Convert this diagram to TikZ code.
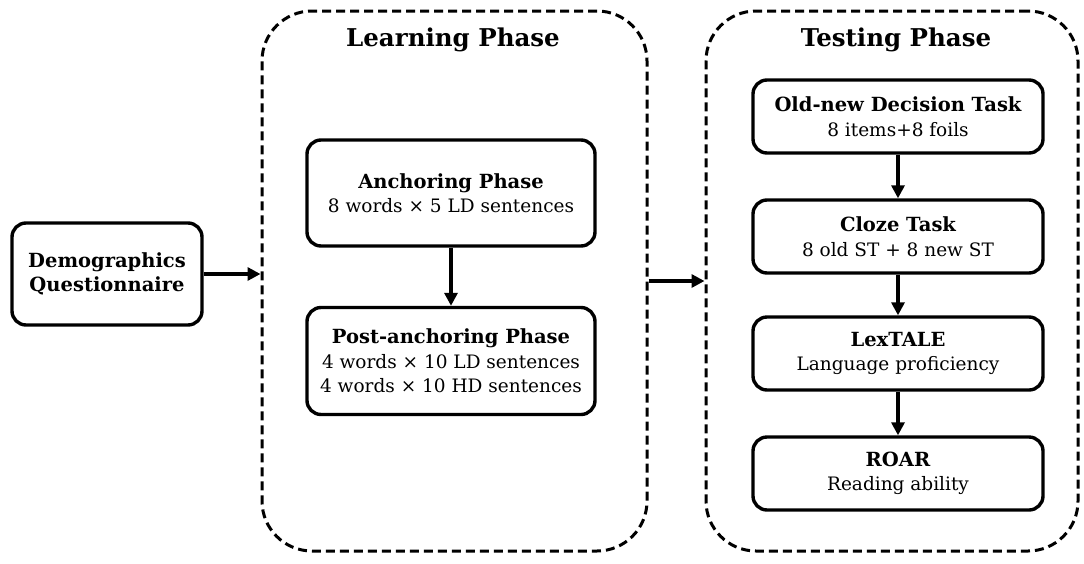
\documentclass[tikz,border=0pt]{standalone}
\usepackage{fontspec}
\setmainfont{DejaVu Serif}
\usetikzlibrary{arrows.meta}
\newcommand{\hd}[1]{{\fontsize{19.5}{24.5}\selectfont\bfseries #1}}
\begin{document}
\begin{tikzpicture}[x=1pt,y=-1pt,
  box/.style={draw, line width=3.4pt, rounded corners=14pt, align=center, inner sep=0pt,
    font=\fontsize{18.5}{24.5}\selectfont},
  container/.style={draw, line width=3pt, dash pattern=on 9pt off 5pt, rounded corners=50pt, inner sep=0pt},
  ttl/.style={font=\fontsize{24.5}{28}\bfseries\selectfont, inner sep=0pt},
  arr/.style={line width=3.2pt, -{Triangle[length=13pt,width=13pt]}}]
\useasboundingbox (0,0) rectangle (1084,563);
\node[box, minimum width=190pt, minimum height=102pt] (demo) at (107,274)
  {\hd{Demographics}\\\hd{Questionnaire}};
\node[container, minimum width=385pt, minimum height=540pt] (learn) at (454.5,281) {};
\node[ttl] (lt) at (453,40) {Learning Phase};
\node[box, minimum width=288pt, minimum height=106pt] (anch) at (451,193)
  {\hd{Anchoring Phase}\\8 words × 5 LD sentences};
\node[box, minimum width=288pt, minimum height=107pt] (post) at (451,361)
  {\hd{Post-anchoring Phase}\\4 words × 10 LD sentences\\4 words × 10 HD sentences};
\node[container, minimum width=372pt, minimum height=540pt] (test) at (892,281) {};
\node[ttl] (tt) at (896,40) {Testing Phase};
\node[box, minimum width=290pt, minimum height=73pt] (old) at (898,116.5)
  {\hd{Old-new Decision Task}\\8 items+8 foils};
\node[box, minimum width=290pt, minimum height=73pt] (cloze) at (898,236.5)
  {\hd{Cloze Task}\\8 old ST + 8 new ST};
\node[box, minimum width=290pt, minimum height=73pt] (lex) at (898,353.5)
  {\hd{LexTALE}\\Language proficiency};
\node[box, minimum width=290pt, minimum height=73pt] (roar) at (898,473.5)
  {\hd{ROAR}\\Reading ability};
\draw[arr] (demo.east) -- (demo.east -| learn.west);
\draw[arr] (learn.east) -- (learn.east -| test.west);
\draw[arr] (anch.south) -- (post.north);
\draw[arr] (old.south) -- (cloze.north);
\draw[arr] (cloze.south) -- (lex.north);
\draw[arr] (lex.south) -- (roar.north);
\end{tikzpicture}
\end{document}
